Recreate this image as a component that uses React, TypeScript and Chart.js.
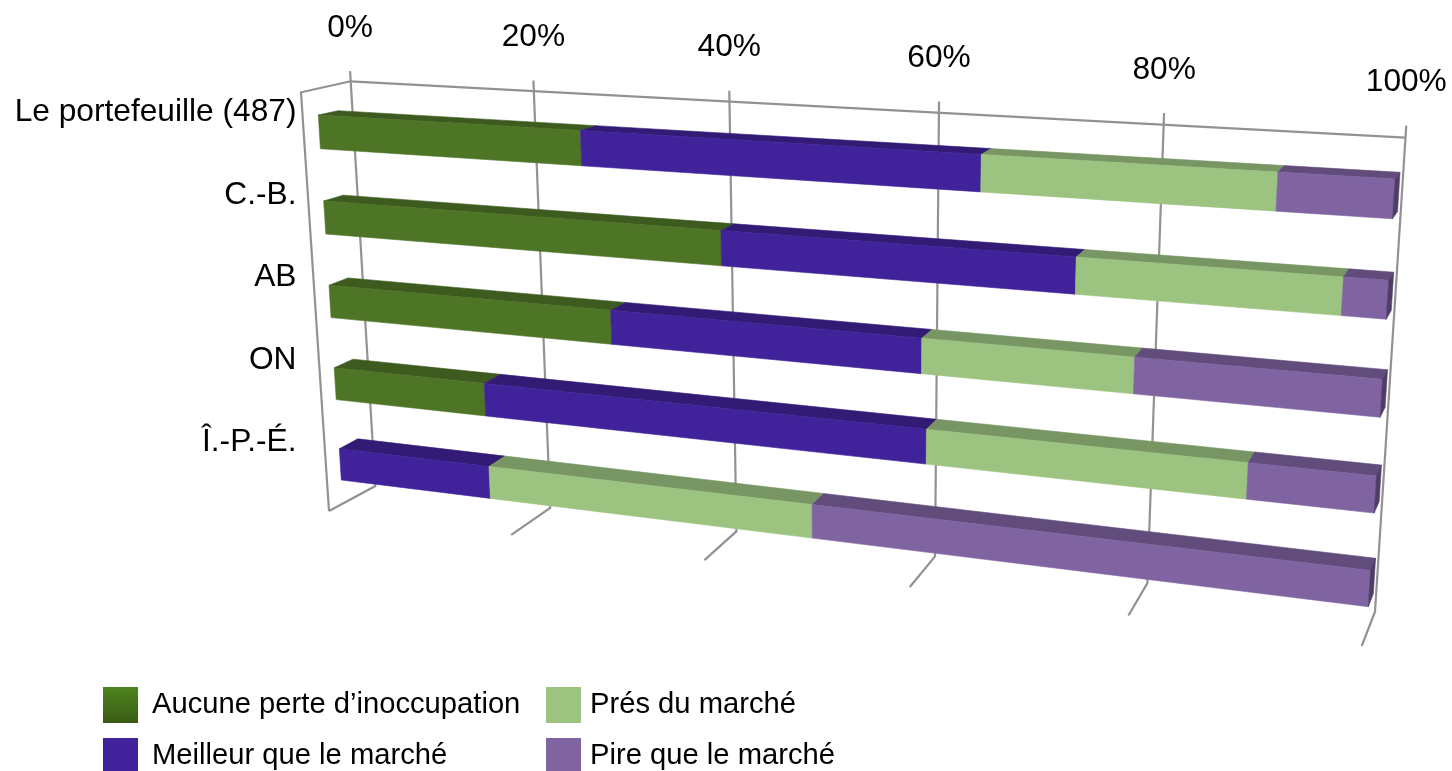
import React, { useEffect, useRef } from "react";
import { Chart, registerables } from "chart.js";

Chart.register(...registerables);

// Survey results per region, in percent of properties.
const categories = ["Le portefeuille (487)", "C.-B.", "AB", "ON", "Î.-P.-É."];
const aucunePerte = [27.7, 41.4, 30.2, 16.6, 0];
const meilleur = [37.9, 32.7, 30.2, 44.3, 16.7];
const presMarche = [25.1, 22.3, 19, 28.5, 33.3];
const pireMarche = [9.3, 3.6, 20.6, 10.6, 50];

const seriesNames = ["Aucune perte d’inoccupation", "Meilleur que le marché", "Prés du marché", "Pire que le marché"];
const frontColors = ["#4e7426", "#40229a", "#9cc37f", "#8064a2"];
const topColors = ["#3d5a1f", "#321b75", "#779664", "#614c7b"];
const sideColor = "#4f3d68";
const gridColor = "#929292";
const fontFamily = '"Liberation Sans", Arial, sans-serif';

type Pt = [number, number];
type Mapper = (u: number, v: number) => Pt;

// Projective map from the unit square onto a quadrilateral.
function quadMap(tl: Pt, tr: Pt, bl: Pt, br: Pt): Mapper {
  const [x0, y0] = tl, [x1, y1] = tr, [x2, y2] = br, [x3, y3] = bl;
  const sx = x0 - x1 + x2 - x3, sy = y0 - y1 + y2 - y3;
  const dx1 = x1 - x2, dx2 = x3 - x2, dy1 = y1 - y2, dy2 = y3 - y2;
  const den = dx1 * dy2 - dx2 * dy1;
  const g = (sx * dy2 - dx2 * sy) / den, h = (dx1 * sy - sx * dy1) / den;
  const a = x1 - x0 + g * x1, b = x3 - x0 + h * x3;
  const d = y1 - y0 + g * y1, e = y3 - y0 + h * y3;
  return (u, v) => {
    const w = g * u + h * v + 1;
    return [(a * u + b * v + x0) / w, (d * u + e * v + y0) / w];
  };
}

// The planes of the 3D box the chart is viewed in.
const backWall = quadMap([350.7, 81.3], [1405.5, 137.7], [375.3, 486], [1375, 611.7]);
const floor = quadMap([375.3, 486], [1375, 611.7], [329, 511], [1361.7, 646]);
const barFront = quadMap([318.3, 115], [1395, 179], [341.3, 480], [1368.3, 606.7]);
const barBack = quadMap([338, 110.7], [1400, 172.3], [359.6, 469.5], [1373.3, 594]);
const leftWallCorner: Pt = [301, 92.3];
const tickOverhang = -0.024;
const tickLabelLift = 43;
const categoryLabelX = 296.5;
const categoryLabelTop = 112.5;
const categoryLabelBottom = 442.5;

function poly(ctx: CanvasRenderingContext2D, pts: Pt[], fill: string) {
  ctx.beginPath();
  pts.forEach(([x, y], i) => (i ? ctx.lineTo(x, y) : ctx.moveTo(x, y)));
  ctx.closePath();
  ctx.fillStyle = fill;
  ctx.fill();
  ctx.lineWidth = 0.6;
  ctx.strokeStyle = fill;
  ctx.stroke();
}

function line(ctx: CanvasRenderingContext2D, pts: Pt[]) {
  ctx.beginPath();
  pts.forEach(([x, y], i) => (i ? ctx.lineTo(x, y) : ctx.moveTo(x, y)));
  ctx.stroke();
}

// Draws gridlines, bars and labels through the projected planes instead of flat.
const perspectivePlugin = {
  id: "perspective",
  beforeDatasetsDraw(chart: any) {
    const { ctx, scales } = chart;
    const xs = scales.x, ys = scales.y;
    const toU = (px: number) => (px - xs.left) / xs.width;

    ctx.save();
    ctx.strokeStyle = gridColor;
    ctx.lineWidth = 2.2;
    ctx.lineJoin = "miter";
    line(ctx, [floor(0, 1), leftWallCorner, backWall(0, 0)]);
    xs.ticks.forEach((t: any) => {
      const u = toU(xs.getPixelForValue(t.value));
      line(ctx, [backWall(u, tickOverhang), backWall(u, 1), floor(u, 1)]);
    });
    line(ctx, [backWall(0, 0), backWall(1, 0)]);

    const firstMeta = chart.getDatasetMeta(0).data;
    const top0 = firstMeta[0].y - firstMeta[0].height / 2;
    const last = firstMeta[firstMeta.length - 1];
    const bottom0 = last.y + last.height / 2;
    const toV = (py: number) => (py - top0) / (bottom0 - top0);

    // Bars run from the far row to the near row, each stack left to right.
    categories.forEach((_, row) => {
      let end: any = null;
      chart.data.datasets.forEach((_ds: any, di: number) => {
        const el = chart.getDatasetMeta(di).data[row];
        if (el.x - el.base < 0.01) return;
        end = el;
        const u0 = toU(el.base), u1 = toU(el.x);
        const vT = toV(el.y - el.height / 2), vB = toV(el.y + el.height / 2);
        poly(ctx, [barFront(u0, vT), barFront(u1, vT), barBack(u1, vT), barBack(u0, vT)], topColors[di]);
        poly(ctx, [barFront(u0, vT), barFront(u1, vT), barFront(u1, vB), barFront(u0, vB)], frontColors[di]);
      });
      if (end) {
        const u = toU(end.x);
        const vT = toV(end.y - end.height / 2), vB = toV(end.y + end.height / 2);
        poly(ctx, [barFront(u, vT), barBack(u, vT), barBack(u, vB), barFront(u, vB)], sideColor);
      }
    });

    ctx.fillStyle = "#000";
    ctx.textBaseline = "middle";
    ctx.font = `31.7px ${fontFamily}`;
    ctx.textAlign = "center";
    xs.ticks.forEach((t: any) => {
      const [x, y] = backWall(toU(xs.getPixelForValue(t.value)), tickOverhang);
      ctx.fillText(t.label, x, y - tickLabelLift);
    });
    ctx.textAlign = "right";
    const y0 = ys.getPixelForValue(0), y1 = ys.getPixelForValue(categories.length - 1);
    categories.forEach((c, i) => {
      const y = categoryLabelTop + ((ys.getPixelForValue(i) - y0) / (y1 - y0)) * (categoryLabelBottom - categoryLabelTop);
      ctx.fillText(c, categoryLabelX, y);
    });

    // Two-column legend, filled column by column.
    const boxCols = [103, 546];
    const textCols = [152, 590];
    const rows = [687, 738];
    const boxW = 35, boxH = 36;
    chart.data.datasets.forEach((ds: any, di: number) => {
      const col = di >> 1;
      const by = rows[di % 2];
      if (di === 0) {
        const g = ctx.createLinearGradient(0, by, 0, by + boxH);
        g.addColorStop(0, "#4f851f");
        g.addColorStop(1, "#385a15");
        ctx.fillStyle = g;
      } else {
        ctx.fillStyle = frontColors[di];
      }
      ctx.fillRect(boxCols[col], by, boxW, boxH);
      ctx.fillStyle = "#000";
      ctx.textAlign = "left";
      ctx.font = `29.2px ${fontFamily}`;
      ctx.fillText(ds.label, textCols[col], by + 18);
    });
    ctx.restore();
    return false;
  },
};

export default function App() {
  const ref = useRef<HTMLCanvasElement>(null);
  useEffect(() => {
    const seriesValues = [aucunePerte, meilleur, presMarche, pireMarche];
    const chart = new Chart(ref.current!, {
      type: "bar",
      data: {
        labels: categories,
        datasets: seriesNames.map((label, i) => ({
          label,
          data: seriesValues[i],
          backgroundColor: frontColors[i],
          barPercentage: 0.39,
          categoryPercentage: 1,
        })),
      },
      options: {
        indexAxis: "y",
        responsive: false,
        animation: false,
        layout: { padding: 0 },
        plugins: { legend: { display: false }, tooltip: { enabled: false } },
        scales: {
          x: {
            display: false,
            stacked: true,
            min: 0,
            max: 100,
            ticks: { stepSize: 20, callback: (v: any) => `${v}%` },
          },
          y: { display: false, stacked: true },
        },
      },
      plugins: [perspectivePlugin],
    } as any);
    return () => chart.destroy();
  }, []);
  return (
    <canvas
      ref={ref}
      width={1452}
      height={771}
      style={{ position: "absolute", left: 0, top: 0, width: 1452, height: 771 }}
    />
  );
}
